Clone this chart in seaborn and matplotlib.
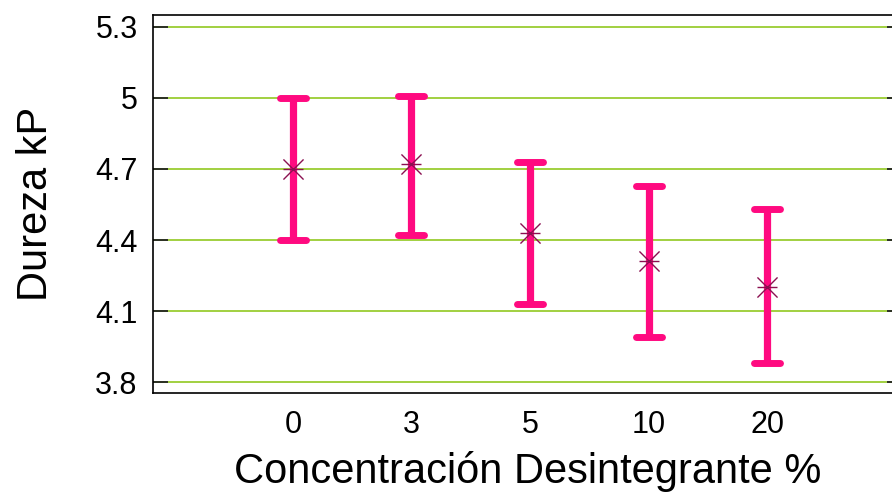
import matplotlib
matplotlib.use("Agg")
import matplotlib.pyplot as plt
from matplotlib.markers import MarkerStyle
import seaborn as sns
import pandas as pd
import numpy as np

categories = ["0", "3", "5", "10", "20"]
means = [4.70, 4.72, 4.43, 4.31, 4.20]
lower = [4.40, 4.42, 4.13, 3.99, 3.88]
upper = [5.00, 5.01, 4.73, 4.63, 4.53]
yticks = [3.8, 4.1, 4.4, 4.7, 5.0, 5.3]
ytick_labels = ["3.8", "4.1", "4.4", "4.7", "5", "5.3"]

sns.set_theme(style="white")
plt.rcParams['font.family'] = ['Liberation Sans', 'DejaVu Sans']

df = pd.DataFrame({"cat": categories, "mean": means, "lo": lower, "hi": upper})
df["pos"] = np.arange(len(df))

fig = plt.figure(figsize=(8.92, 4.93), dpi=100)
ax = fig.add_axes([0.1715, 0.2028, 0.84, 0.7668])

pink = "#FF0A80"
eb = ax.errorbar(df["pos"], df["mean"],
                 yerr=[df["mean"] - df["lo"], df["hi"] - df["mean"]],
                 fmt="none", ecolor=pink, elinewidth=5.2, capsize=9.5, capthick=5.0, zorder=3)
for cl in eb[1]:
    cl.set_marker(MarkerStyle("_", capstyle="round"))
for lc in eb[2]:
    lc.set_capstyle("butt")

sns.scatterplot(data=df, x="pos", y="mean", marker="x", s=210, color="#8B1050",
                linewidth=1.0, ax=ax, zorder=4, legend=False)
sns.scatterplot(data=df, x="pos", y="mean", marker="_", s=210, color="#8B1050",
                linewidth=1.0, ax=ax, zorder=4, legend=False)

ax.set_xlim(-1.18, 5.14)
ax.set_ylim(3.754, 5.35)
ax.set_yticks(yticks)
ax.set_yticklabels(ytick_labels)
ax.set_xticks(df["pos"])
ax.set_xticklabels(categories)
ax.yaxis.grid(True, color="#9ACD32", linewidth=1.3)
ax.set_axisbelow(True)
ax.tick_params(axis="y", direction="in", length=11, width=1.3, color="#222222",
               labelsize=22, pad=11, left=True, right=True, labelcolor="black")
ax.tick_params(axis="x", length=0, labelsize=22, pad=12, labelcolor="black")
for s in ax.spines.values():
    s.set_color("black")
    s.set_linewidth(1.2)
ax.set_xlabel("Concentración Desintegrante %", fontsize=30, labelpad=8, color="black")
ax.set_ylabel("Dureza kP", fontsize=30, labelpad=28, color="black")

fig.savefig("out.png", dpi=100)
